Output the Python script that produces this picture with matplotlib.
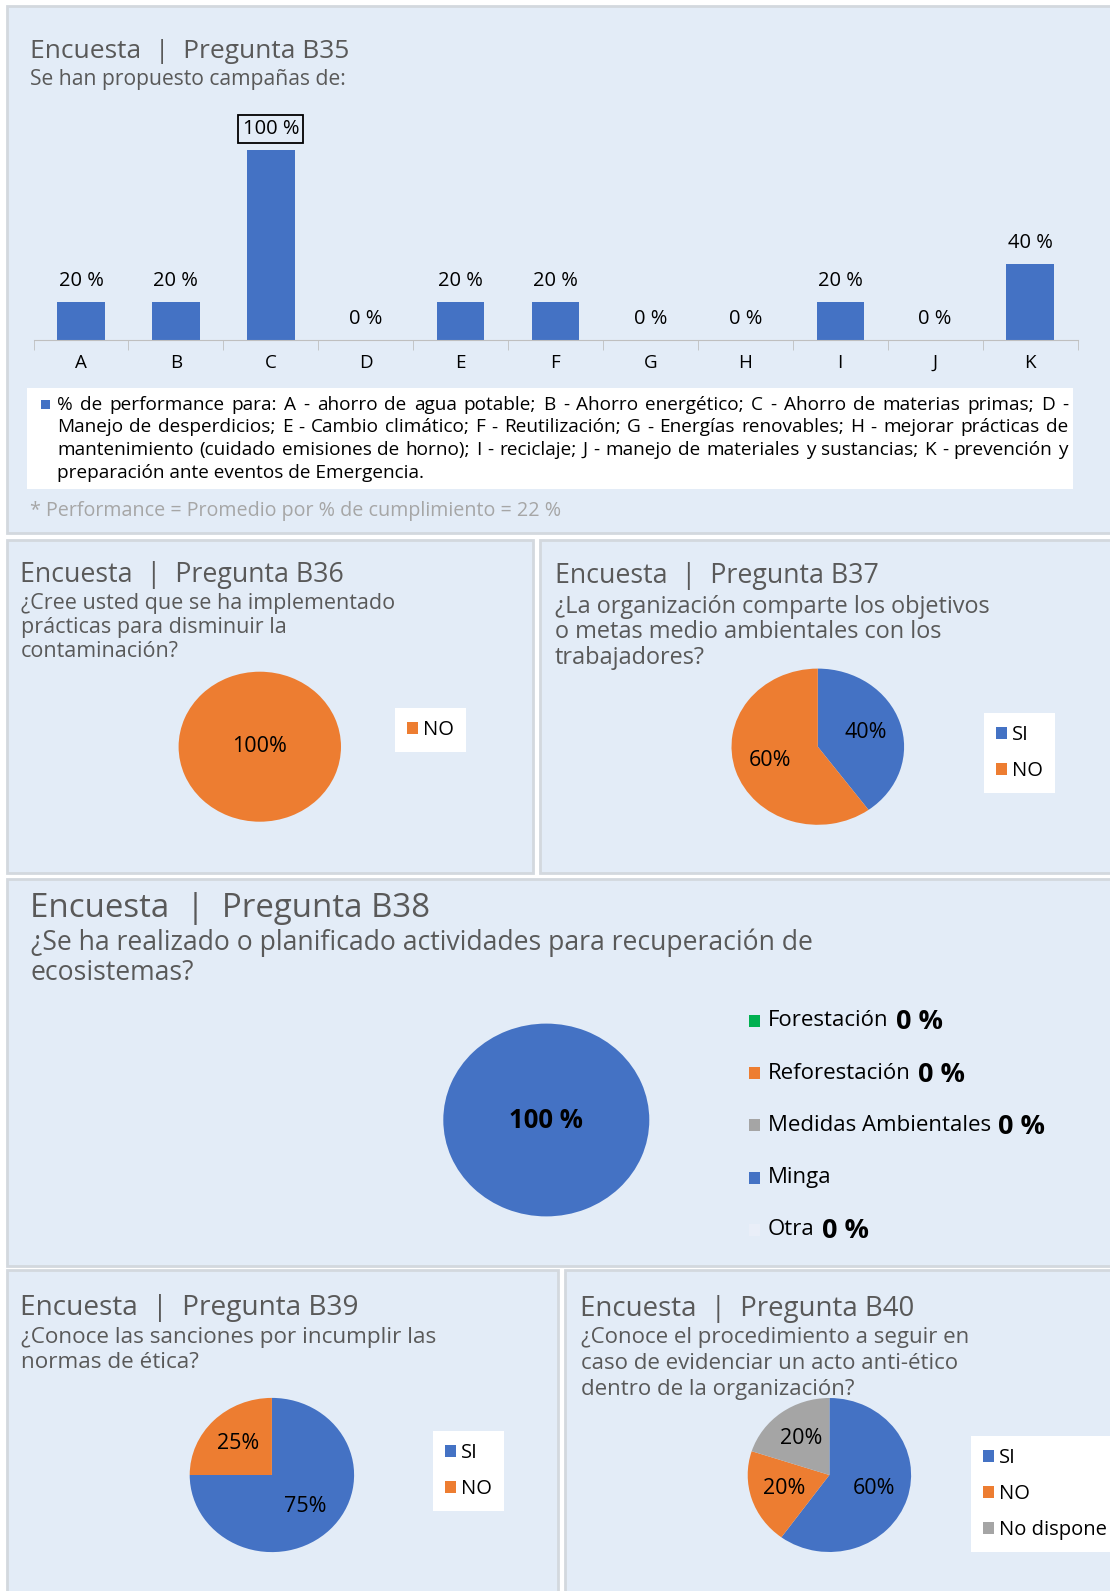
import matplotlib
matplotlib.use('Agg')
import matplotlib.pyplot as plt
from matplotlib.patches import Rectangle

plt.rcParams['font.family'] = ['Open Sans', 'DejaVu Sans']

W, H = 1110, 1591

BLUE = '#4472C4'
ORANGE = '#ED7D31'
GRAY = '#A5A5A5'
GREEN = '#00B050'
PALE = '#E9EEF8'
PANEL_BG = '#E3ECF7'
PANEL_EDGE = '#D3D8DE'
TITLE_C = '#595959'

# ---- data ----
b35_cats = ['A', 'B', 'C', 'D', 'E', 'F', 'G', 'H', 'I', 'J', 'K']
b35_vals = [20, 20, 100, 0, 20, 20, 0, 0, 20, 0, 40]
b35_legend_lines = [
    '% de performance para: A - ahorro de agua potable;   B - Ahorro energético;  C - Ahorro de materias primas; D -',
    'Manejo de desperdicios; E - Cambio climático; F - Reutilización; G - Energías renovables; H - mejorar prácticas de',
    'mantenimiento (cuidado emisiones de horno); I - reciclaje; J - manejo de materiales y sustancias; K - prevención y',
    'preparación ante eventos de Emergencia.',
]
b35_note = '* Performance = Promedio por % de cumplimiento = 22 %'

b36_labels = ['NO']
b36_vals = [100]

b37_labels = ['SI', 'NO']
b37_vals = [40, 60]

b38_labels = ['Forestación', 'Reforestación', 'Medidas Ambientales', 'Minga', 'Otra']
b38_vals = [0, 0, 0, 100, 0]

b39_labels = ['SI', 'NO']
b39_vals = [75, 25]

b40_labels = ['SI', 'NO', 'No dispone']
b40_vals = [60, 20, 20]

fig = plt.figure(figsize=(W / 100, H / 100), dpi=100)
fig.patch.set_facecolor('white')


def box(x, y, w, h):
    return [x / W, 1 - (y + h) / H, w / W, h / H]


def panel(x0, y0, x1, y1):
    fig.add_artist(Rectangle((x0 / W, 1 - y1 / H), (x1 - x0) / W, (y1 - y0) / H,
                             transform=fig.transFigure, facecolor=PANEL_BG,
                             edgecolor=PANEL_EDGE, linewidth=2, zorder=0))


def txt(x, y, s, fs, color=TITLE_C, **kw):
    return fig.text(x / W, 1 - (y + 2) / H, s, fontsize=fs, color=color, va='center', ha='left', **kw)


def pie_panel(cx, cy, rx, ry, vals, colors, pctdist=0.58, fs=15.5):
    ax = fig.add_axes(box(cx - rx, cy - ry, 2 * rx, 2 * ry))
    wedges, _, autotexts = ax.pie(vals, colors=colors, startangle=90, counterclock=False,
                                  autopct=lambda p: f'{p:.0f}%' if p > 0 else '',
                                  pctdistance=pctdist, wedgeprops=dict(linewidth=0),
                                  textprops=dict(fontsize=fs, color='black'))
    ax.set_xlim(-1, 1)
    ax.set_ylim(-1, 1)
    ax.set_aspect('auto')
    return ax, wedges, autotexts


def pie_legend(ax, wedges, labels, x, y, fs=14.5, spacing=0.8):
    ax.legend(wedges, labels, loc='upper left', bbox_to_anchor=(x / W, 1 - y / H),
              bbox_transform=fig.transFigure, frameon=True, fancybox=False,
              facecolor='white', edgecolor='none', framealpha=1, fontsize=fs,
              handlelength=0.55, handleheight=0.55, handletextpad=0.25,
              labelspacing=spacing, borderpad=0.6, borderaxespad=0)


# ---- panels ----
panel(7, 6, 1116, 533)
panel(7, 540, 533, 873)
panel(540, 540, 1116, 873)
panel(7, 879, 1116, 1266)
panel(7, 1270, 558, 1596)
panel(565, 1270, 1116, 1596)

# ---- B35 bar chart ----
txt(30, 49, 'Encuesta  |  Pregunta B35', 19)
txt(30, 77, 'Se han propuesto campañas de:', 15.2)

ax = fig.add_axes(box(33.5, 150, 1044, 190))
ax.patch.set_alpha(0)
xs = list(range(len(b35_cats)))
bars = ax.bar(xs, b35_vals, width=0.5, color=BLUE)
ax.set_xlim(-0.5, len(b35_cats) - 0.5)
ax.set_ylim(0, 100)
for s in ['top', 'right', 'left']:
    ax.spines[s].set_visible(False)
ax.spines['bottom'].set_color('#BFBFBF')
ax.set_yticks([])
ax.set_xticks(xs)
ax.set_xticklabels(b35_cats, fontsize=13.5)
ax.set_xticks([i - 0.5 for i in range(len(b35_cats) + 1)], minor=True)
ax.tick_params(axis='x', which='major', length=0, pad=10)
ax.tick_params(axis='x', which='minor', length=7, color='#BFBFBF')
top = max(b35_vals)
for b, v in zip(bars, b35_vals):
    kw = {}
    if v == top:
        kw['bbox'] = dict(boxstyle='square,pad=0.2', fc='none', ec='black', lw=1.3)
    ax.annotate(f'{v} %', xy=(b.get_x() + b.get_width() / 2, v), xytext=(0, 15),
                textcoords='offset points', ha='center', va='center', fontsize=14.5, **kw)

# legend box with justified text
fig.add_artist(Rectangle((27 / W, 1 - 489 / H), (1073 - 27) / W, (489 - 388) / H,
                         transform=fig.transFigure, facecolor='white', edgecolor='none', zorder=1))
fig.add_artist(Rectangle((41 / W, 1 - 409 / H), 9 / W, 9 / H,
                         transform=fig.transFigure, facecolor=BLUE, edgecolor='none', zorder=2))
renderer = fig.canvas.get_renderer()
line_y = [403, 425.5, 448, 470.5]
for i, line in enumerate(b35_legend_lines):
    if i == len(b35_legend_lines) - 1:
        txt(57, line_y[i], line, 13.7, color='black', zorder=3)
        continue
    words = line.split()
    ts = [txt(0, line_y[i], w, 13.7, color='black', zorder=3) for w in words]
    ws = [t.get_window_extent(renderer).width for t in ts]
    gap = (1068 - 57 - sum(ws)) / (len(words) - 1)
    xpos = 57
    for t, w in zip(ts, ws):
        t.set_x(xpos / W)
        xpos += w + gap

txt(30, 509, b35_note, 14.2, color='#A6A6A6')

# ---- B36 ----
txt(20, 573, 'Encuesta  |  Pregunta B36', 19.3)
for i, s in enumerate(['¿Cree usted que se ha implementado', 'prácticas para disminuir la', 'contaminación?']):
    txt(21, 601 + i * 24.5, s, 15.5)
ax36, w36, _ = pie_panel(259.8, 746.7, 81.2, 75, b36_vals, [ORANGE], pctdist=0)
pie_legend(ax36, w36, b36_labels, 395, 708)

# ---- B37 ----
txt(555, 574, 'Encuesta  |  Pregunta B37', 19.3)
for i, s in enumerate(['¿La organización comparte los objetivos', 'o metas medio ambientales con los', 'trabajadores?']):
    txt(555, 605 + i * 25.5, s, 16.9)
ax37, w37, _ = pie_panel(817.8, 746.7, 86.3, 78.1, b37_vals, [BLUE, ORANGE])
pie_legend(ax37, w37, b37_labels, 984, 713)

# ---- B38 ----
txt(30, 906, 'Encuesta  |  Pregunta B38', 23.8)
txt(31, 941, '¿Se ha realizado o planificado actividades para recuperación de', 19.1)
txt(31, 971, 'ecosistemas?', 19.1)
b38_colors = [GREEN, ORANGE, GRAY, BLUE, PALE]
ax38, w38, at38 = pie_panel(546.3, 1120, 103, 96.4, b38_vals, b38_colors, pctdist=0, fs=18.5)
for t in at38:
    if t.get_text():
        t.set_text(t.get_text().replace('%', ' %'))
        t.set_fontweight('bold')
for i, (lab, v, c) in enumerate(zip(b38_labels, b38_vals, b38_colors)):
    y = 1021 + i * 52.2
    fig.add_artist(Rectangle((749 / W, 1 - (y + 6) / H), 11 / W, 12 / H,
                             transform=fig.transFigure, facecolor=c, edgecolor='none'))
    t = txt(768, y - 2, lab, 16, color='black')
    if v == 0:
        ax38.annotate(f'{v} %', xy=(1, 0.5), xycoords=t, xytext=(5, -1), textcoords='offset points',
                      ha='left', va='center', fontsize=19.5, fontweight='bold', color='black')

# ---- B39 ----
txt(20, 1306, 'Encuesta  |  Pregunta B39', 20.2)
txt(21, 1335, '¿Conoce las sanciones por incumplir las', 16.2)
txt(21, 1361, 'normas de ética?', 16.2)
ax39, w39, _ = pie_panel(271.9, 1475, 82.2, 77.1, b39_vals, [BLUE, ORANGE])
pie_legend(ax39, w39, b39_labels, 433, 1431)

# ---- B40 ----
txt(580, 1307, 'Encuesta  |  Pregunta B40', 19.9)
for i, s in enumerate(['¿Conoce el procedimiento a seguir en', 'caso de evidenciar un acto anti-ético',
                       'dentro de la organización?']):
    txt(581, 1336 + i * 25.5, s, 16)
ax40, w40, _ = pie_panel(829.4, 1475, 81.7, 77, b40_vals, [BLUE, ORANGE, GRAY])
pie_legend(ax40, w40, b40_labels, 971, 1436)

fig.savefig('out.png', dpi=100, facecolor='white')
